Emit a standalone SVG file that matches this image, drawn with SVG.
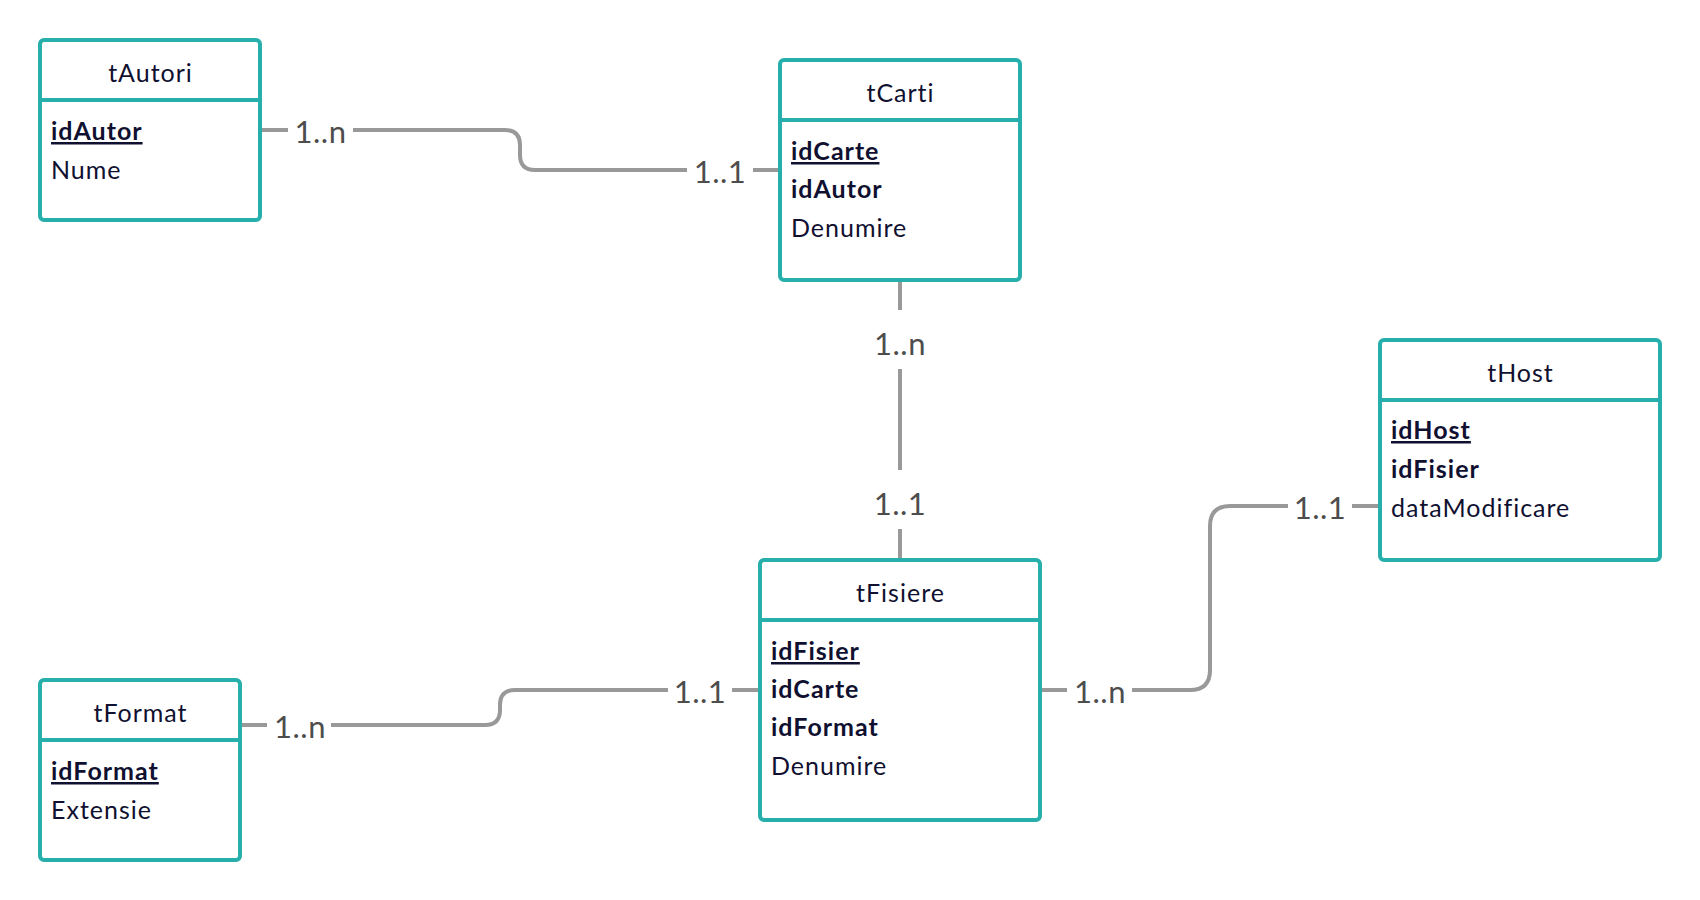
<svg xmlns="http://www.w3.org/2000/svg" width="1700" height="900" viewBox="0 0 1700 900">
<style>
.box{fill:#ffffff;stroke:#27afac;stroke-width:4}
.div{stroke:#27afac;stroke-width:4}
.title{font-family:Lato,"Liberation Sans",sans-serif;font-size:25px;letter-spacing:1px;fill:#101030;text-anchor:middle}
.f{font-family:Lato,"Liberation Sans",sans-serif;font-size:25px;letter-spacing:1px;fill:#101030}
.pk{font-weight:bold;text-decoration:underline}
.fk{font-weight:bold}
.conn{fill:none;stroke:#999999;stroke-width:4}
.gap{fill:#ffffff}
.lbl{font-family:Lato,"Liberation Sans",sans-serif;font-size:31px;letter-spacing:0.5px;fill:#4d4d4d;text-anchor:middle}
</style>
<rect width="1700" height="900" fill="#ffffff"/>
<g id="connectors">
<path class="conn" d="M260,130 H505 Q520,130 520,145 V155 Q520,170 535,170 H780"/>
<path class="conn" d="M900,280 V560"/>
<path class="conn" d="M1040,690 H1190 Q1210,690 1210,670 V526 Q1210,506 1230,506 H1380"/>
<path class="conn" d="M240,725 H485 Q500,725 500,710 V705 Q500,690 515,690 H760"/>
<rect class="gap" x="288" y="115" width="65" height="30"/>
<text class="lbl" x="320.5" y="142.5">1..n</text>
<rect class="gap" x="687" y="155" width="66" height="30"/>
<text class="lbl" x="720" y="182.5">1..1</text>
<rect class="gap" x="885" y="310" width="30" height="59"/>
<text class="lbl" x="900" y="355">1..n</text>
<rect class="gap" x="885" y="470" width="30" height="59"/>
<text class="lbl" x="900" y="515">1..1</text>
<rect class="gap" x="1288" y="491" width="64" height="30"/>
<text class="lbl" x="1320" y="518.5">1..1</text>
<rect class="gap" x="1067" y="675" width="65" height="30"/>
<text class="lbl" x="1100" y="702.5">1..n</text>
<rect class="gap" x="267" y="710" width="64" height="30"/>
<text class="lbl" x="300" y="737.5">1..n</text>
<rect class="gap" x="668" y="675" width="64" height="30"/>
<text class="lbl" x="700" y="702.5">1..1</text>
</g>
<g id="tAutori">
<rect class="box" x="40" y="40" width="220" height="180" rx="4"/>
<line class="div" x1="40" y1="100" x2="260" y2="100"/>
<text class="title" x="150.5" y="82">tAutori</text>
<text class="f pk" x="51" y="140">idAutor</text>
<text class="f" x="51" y="179">Nume</text>
</g>
<g id="tCarti">
<rect class="box" x="780" y="60" width="240" height="220" rx="4"/>
<line class="div" x1="780" y1="120" x2="1020" y2="120"/>
<text class="title" x="900.5" y="102">tCarti</text>
<text class="f pk" x="791" y="160">idCarte</text>
<text class="f fk" x="791" y="198">idAutor</text>
<text class="f" x="791" y="237">Denumire</text>
</g>
<g id="tHost">
<rect class="box" x="1380" y="340" width="280" height="220" rx="4"/>
<line class="div" x1="1380" y1="400" x2="1660" y2="400"/>
<text class="title" x="1520.5" y="382">tHost</text>
<text class="f pk" x="1391" y="439">idHost</text>
<text class="f fk" x="1391" y="478">idFisier</text>
<text class="f" x="1391" y="517">dataModificare</text>
</g>
<g id="tFisiere">
<rect class="box" x="760" y="560" width="280" height="260" rx="4"/>
<line class="div" x1="760" y1="620" x2="1040" y2="620"/>
<text class="title" x="900.5" y="602">tFisiere</text>
<text class="f pk" x="771" y="660">idFisier</text>
<text class="f fk" x="771" y="698">idCarte</text>
<text class="f fk" x="771" y="736">idFormat</text>
<text class="f" x="771" y="775">Denumire</text>
</g>
<g id="tFormat">
<rect class="box" x="40" y="680" width="200" height="180" rx="4"/>
<line class="div" x1="40" y1="740" x2="240" y2="740"/>
<text class="title" x="140.5" y="722">tFormat</text>
<text class="f pk" x="51" y="780">idFormat</text>
<text class="f" x="51" y="819">Extensie</text>
</g>
</svg>
